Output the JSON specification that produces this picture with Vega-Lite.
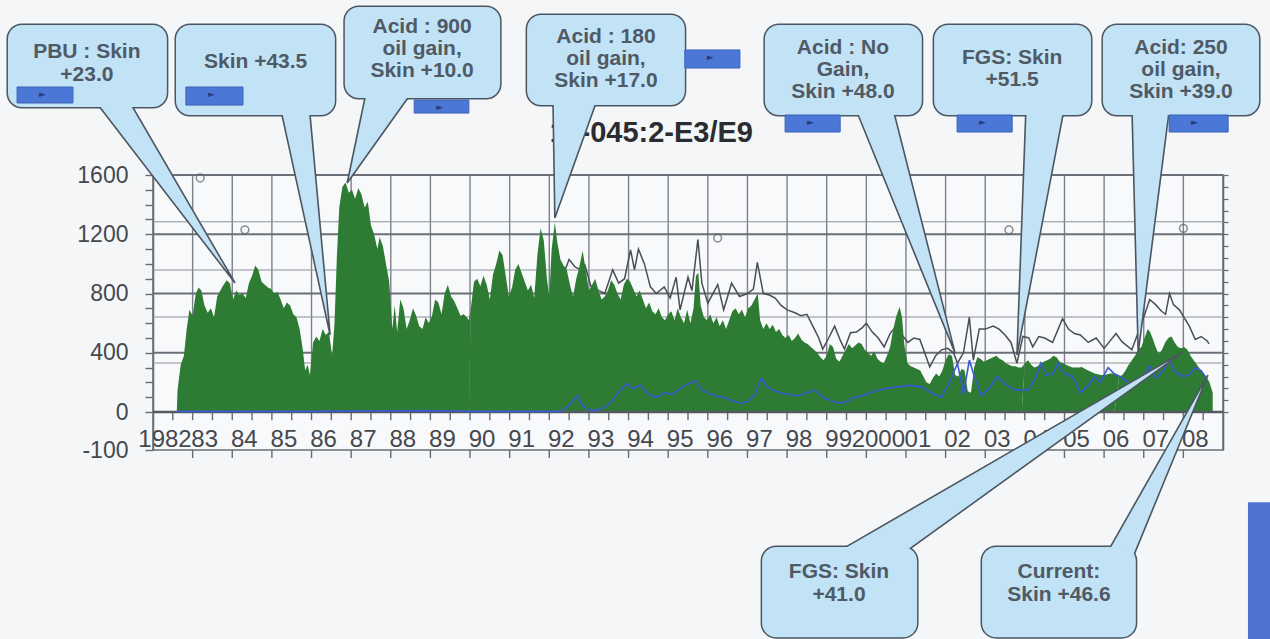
{
  "$schema": "https://vega.github.io/schema/vega-lite/v6.json",
  "width": 1070,
  "height": 275,
  "autosize": {"type": "none"},
  "padding": {"left": 153, "top": 175, "right": 47, "bottom": 189},
  "background": "#f4f6f8",
  "config": {"view": {"stroke": "#6a6e76", "strokeWidth": 1.5, "fill": "#f8f9fb"}},
  "datasets": {
    "oil": [
      {"t":1982.60,"v":0,"s":1},{"t":1982.62,"v":150,"s":1},{"t":1982.70,"v":320,"s":1},{"t":1982.78,"v":380,"s":1},{"t":1982.85,"v":560,"s":1},{"t":1982.92,"v":690,"s":1},{"t":1983.00,"v":650,"s":1},{"t":1983.08,"v":800,"s":1},{"t":1983.15,"v":840,"s":1},{"t":1983.22,"v":820,"s":1},{"t":1983.30,"v":720,"s":1},{"t":1983.38,"v":670,"s":1},{"t":1983.46,"v":700,"s":1},{"t":1983.54,"v":640,"s":1},{"t":1983.62,"v":780,"s":1},{"t":1983.70,"v":820,"s":1},{"t":1983.78,"v":860,"s":1},{"t":1983.86,"v":890,"s":1},{"t":1983.94,"v":870,"s":1},{"t":1984.02,"v":760,"s":1},{"t":1984.10,"v":820,"s":1},{"t":1984.18,"v":790,"s":1},{"t":1984.26,"v":800,"s":1},{"t":1984.34,"v":770,"s":1},{"t":1984.42,"v":870,"s":1},{"t":1984.50,"v":920,"s":1},{"t":1984.58,"v":990,"s":1},{"t":1984.66,"v":960,"s":1},{"t":1984.74,"v":880,"s":1},{"t":1984.82,"v":860,"s":1},{"t":1984.90,"v":840,"s":1},{"t":1984.98,"v":830,"s":1},{"t":1985.06,"v":800,"s":1},{"t":1985.14,"v":810,"s":1},{"t":1985.22,"v":760,"s":1},{"t":1985.30,"v":700,"s":1},{"t":1985.38,"v":740,"s":1},{"t":1985.46,"v":720,"s":1},{"t":1985.54,"v":660,"s":1},{"t":1985.62,"v":640,"s":1},{"t":1985.70,"v":560,"s":1},{"t":1985.78,"v":420,"s":1},{"t":1985.84,"v":280,"s":1},{"t":1985.90,"v":320,"s":1},{"t":1985.96,"v":250,"s":1},{"t":1986.04,"v":470,"s":1},{"t":1986.12,"v":510,"s":1},{"t":1986.20,"v":480,"s":1},{"t":1986.28,"v":560,"s":1},{"t":1986.36,"v":520,"s":1},{"t":1986.44,"v":540,"s":1},{"t":1986.52,"v":380,"s":1},{"t":1986.58,"v":600,"s":1},{"t":1986.64,"v":1050,"s":1},{"t":1986.70,"v":1380,"s":1},{"t":1986.78,"v":1520,"s":1},{"t":1986.86,"v":1550,"s":1},{"t":1986.94,"v":1480,"s":1},{"t":1987.02,"v":1500,"s":1},{"t":1987.10,"v":1440,"s":1},{"t":1987.18,"v":1510,"s":1},{"t":1987.26,"v":1470,"s":1},{"t":1987.34,"v":1380,"s":1},{"t":1987.42,"v":1420,"s":1},{"t":1987.50,"v":1260,"s":1},{"t":1987.58,"v":1200,"s":1},{"t":1987.66,"v":1100,"s":1},{"t":1987.72,"v":1180,"s":1},{"t":1987.80,"v":1120,"s":1},{"t":1987.88,"v":1000,"s":1},{"t":1987.96,"v":880,"s":1},{"t":1988.04,"v":560,"s":1},{"t":1988.10,"v":720,"s":1},{"t":1988.16,"v":540,"s":1},{"t":1988.24,"v":760,"s":1},{"t":1988.32,"v":700,"s":1},{"t":1988.40,"v":560,"s":1},{"t":1988.48,"v":620,"s":1},{"t":1988.56,"v":700,"s":1},{"t":1988.64,"v":650,"s":1},{"t":1988.72,"v":580,"s":1},{"t":1988.80,"v":560,"s":1},{"t":1988.88,"v":640,"s":1},{"t":1988.96,"v":600,"s":1},{"t":1989.04,"v":650,"s":1},{"t":1989.12,"v":760,"s":1},{"t":1989.20,"v":740,"s":1},{"t":1989.28,"v":660,"s":1},{"t":1989.36,"v":800,"s":1},{"t":1989.44,"v":860,"s":1},{"t":1989.52,"v":780,"s":1},{"t":1989.60,"v":750,"s":1},{"t":1989.68,"v":700,"s":1},{"t":1989.76,"v":650,"s":1},{"t":1989.84,"v":660,"s":1},{"t":1989.92,"v":640,"s":1},{"t":1989.97,"v":620,"s":1},
      {"t":1990.02,"v":700,"s":2},{"t":1990.10,"v":880,"s":2},{"t":1990.18,"v":900,"s":2},{"t":1990.26,"v":850,"s":2},{"t":1990.34,"v":920,"s":2},{"t":1990.42,"v":860,"s":2},{"t":1990.50,"v":760,"s":2},{"t":1990.58,"v":930,"s":2},{"t":1990.66,"v":1000,"s":2},{"t":1990.74,"v":1090,"s":2},{"t":1990.82,"v":1060,"s":2},{"t":1990.90,"v":920,"s":2},{"t":1990.98,"v":780,"s":2},{"t":1991.06,"v":840,"s":2},{"t":1991.14,"v":960,"s":2},{"t":1991.22,"v":1000,"s":2},{"t":1991.30,"v":940,"s":2},{"t":1991.38,"v":880,"s":2},{"t":1991.46,"v":820,"s":2},{"t":1991.54,"v":860,"s":2},{"t":1991.62,"v":770,"s":2},{"t":1991.70,"v":1060,"s":2},{"t":1991.78,"v":1240,"s":2},{"t":1991.86,"v":1160,"s":2},{"t":1991.94,"v":900,"s":2},{"t":1992.00,"v":780,"s":2},{"t":1992.06,"v":1100,"s":2},{"t":1992.14,"v":1280,"s":2},{"t":1992.20,"v":1150,"s":2},{"t":1992.28,"v":1030,"s":2},{"t":1992.36,"v":990,"s":2},{"t":1992.44,"v":960,"s":2},{"t":1992.52,"v":860,"s":2},{"t":1992.60,"v":780,"s":2},{"t":1992.68,"v":900,"s":2},{"t":1992.76,"v":980,"s":2},{"t":1992.84,"v":1090,"s":2},{"t":1992.92,"v":960,"s":2},{"t":1993.00,"v":820,"s":2},{"t":1993.08,"v":860,"s":2},{"t":1993.16,"v":900,"s":2},{"t":1993.24,"v":820,"s":2},{"t":1993.32,"v":760,"s":2},{"t":1993.40,"v":780,"s":2},{"t":1993.48,"v":820,"s":2},{"t":1993.56,"v":890,"s":2},{"t":1993.64,"v":860,"s":2},{"t":1993.72,"v":800,"s":2},{"t":1993.80,"v":760,"s":2},{"t":1993.88,"v":860,"s":2},{"t":1993.96,"v":900,"s":2},{"t":1994.04,"v":880,"s":2},{"t":1994.12,"v":830,"s":2},{"t":1994.20,"v":780,"s":2},{"t":1994.28,"v":820,"s":2},{"t":1994.36,"v":760,"s":2},{"t":1994.44,"v":700,"s":2},{"t":1994.52,"v":740,"s":2},{"t":1994.60,"v":680,"s":2},{"t":1994.68,"v":660,"s":2},{"t":1994.76,"v":700,"s":2},{"t":1994.84,"v":640,"s":2},{"t":1994.92,"v":620,"s":2},{"t":1995.00,"v":660,"s":2},{"t":1995.08,"v":680,"s":2},{"t":1995.16,"v":620,"s":2},{"t":1995.24,"v":700,"s":2},{"t":1995.32,"v":640,"s":2},{"t":1995.40,"v":600,"s":2},{"t":1995.48,"v":690,"s":2},{"t":1995.56,"v":600,"s":2},{"t":1995.64,"v":700,"s":2},{"t":1995.70,"v":920,"s":2},{"t":1995.76,"v":940,"s":2},{"t":1995.82,"v":720,"s":2},{"t":1995.90,"v":640,"s":2},{"t":1995.98,"v":620,"s":2},{"t":1996.06,"v":660,"s":2},{"t":1996.14,"v":600,"s":2},{"t":1996.22,"v":640,"s":2},{"t":1996.30,"v":580,"s":2},{"t":1996.38,"v":620,"s":2},{"t":1996.46,"v":560,"s":2},{"t":1996.54,"v":620,"s":2},{"t":1996.62,"v":680,"s":2},{"t":1996.70,"v":700,"s":2},{"t":1996.78,"v":660,"s":2},{"t":1996.86,"v":690,"s":2},{"t":1996.94,"v":640,"s":2},{"t":1997.02,"v":700,"s":2},{"t":1997.10,"v":720,"s":2},{"t":1997.18,"v":760,"s":2},{"t":1997.26,"v":800,"s":2},{"t":1997.32,"v":620,"s":2},{"t":1997.40,"v":560,"s":2},{"t":1997.48,"v":600,"s":2},{"t":1997.56,"v":560,"s":2},{"t":1997.64,"v":590,"s":2},{"t":1997.72,"v":540,"s":2},{"t":1997.80,"v":560,"s":2},{"t":1997.88,"v":520,"s":2},{"t":1997.96,"v":500,"s":2},{"t":1998.04,"v":520,"s":2},{"t":1998.12,"v":480,"s":2},{"t":1998.20,"v":500,"s":2},{"t":1998.28,"v":530,"s":2},{"t":1998.36,"v":490,"s":2},{"t":1998.44,"v":470,"s":2},{"t":1998.52,"v":460,"s":2},{"t":1998.60,"v":440,"s":2},{"t":1998.68,"v":420,"s":2},{"t":1998.76,"v":400,"s":2},{"t":1998.84,"v":370,"s":2},{"t":1998.92,"v":350,"s":2},{"t":1999.00,"v":380,"s":2},{"t":1999.08,"v":460,"s":2},{"t":1999.16,"v":440,"s":2},{"t":1999.24,"v":360,"s":2},{"t":1999.32,"v":340,"s":2},{"t":1999.40,"v":380,"s":2},{"t":1999.48,"v":420,"s":2},{"t":1999.56,"v":460,"s":2},{"t":1999.64,"v":430,"s":2},{"t":1999.72,"v":450,"s":2},{"t":1999.80,"v":470,"s":2},{"t":1999.88,"v":460,"s":2},{"t":1999.96,"v":420,"s":2},{"t":2000.04,"v":400,"s":2},{"t":2000.12,"v":380,"s":2},{"t":2000.20,"v":410,"s":2},{"t":2000.28,"v":360,"s":2},{"t":2000.36,"v":340,"s":2},{"t":2000.44,"v":330,"s":2},{"t":2000.52,"v":380,"s":2},{"t":2000.60,"v":440,"s":2},{"t":2000.68,"v":560,"s":2},{"t":2000.76,"v":650,"s":2},{"t":2000.84,"v":710,"s":2},{"t":2000.90,"v":640,"s":2},{"t":2000.96,"v":450,"s":2},{"t":2001.04,"v":330,"s":2},{"t":2001.12,"v":310,"s":2},{"t":2001.20,"v":300,"s":2},{"t":2001.28,"v":290,"s":2},{"t":2001.36,"v":280,"s":2},{"t":2001.44,"v":240,"s":2},{"t":2001.52,"v":200,"s":2},{"t":2001.60,"v":190,"s":2},{"t":2001.68,"v":230,"s":2},{"t":2001.76,"v":260,"s":2},{"t":2001.84,"v":240,"s":2},{"t":2001.92,"v":280,"s":2},{"t":2002.00,"v":350,"s":2},{"t":2002.08,"v":390,"s":2},{"t":2002.16,"v":380,"s":2},{"t":2002.24,"v":250,"s":2},{"t":2002.32,"v":240,"s":2},{"t":2002.40,"v":290,"s":2},{"t":2002.48,"v":280,"s":2},{"t":2002.56,"v":140,"s":2},{"t":2002.64,"v":130,"s":2},{"t":2002.72,"v":300,"s":2},{"t":2002.80,"v":370,"s":2},{"t":2002.88,"v":360,"s":2},{"t":2002.96,"v":340,"s":2},{"t":2003.04,"v":350,"s":2},{"t":2003.12,"v":360,"s":2},{"t":2003.20,"v":370,"s":2},{"t":2003.28,"v":380,"s":2},{"t":2003.36,"v":360,"s":2},{"t":2003.44,"v":350,"s":2},{"t":2003.52,"v":330,"s":2},{"t":2003.60,"v":320,"s":2},{"t":2003.68,"v":310,"s":2},{"t":2003.76,"v":310,"s":2},{"t":2003.84,"v":300,"s":2},{"t":2003.92,"v":300,"s":2},
      {"t":2004.00,"v":330,"s":3},{"t":2004.08,"v":350,"s":3},{"t":2004.16,"v":320,"s":3},{"t":2004.24,"v":300,"s":3},{"t":2004.32,"v":310,"s":3},{"t":2004.40,"v":330,"s":3},{"t":2004.48,"v":340,"s":3},{"t":2004.56,"v":350,"s":3},{"t":2004.64,"v":360,"s":3},{"t":2004.72,"v":380,"s":3},{"t":2004.80,"v":370,"s":3},{"t":2004.88,"v":340,"s":3},{"t":2004.96,"v":330,"s":3},{"t":2005.04,"v":320,"s":3},{"t":2005.12,"v":310,"s":3},{"t":2005.20,"v":300,"s":3},{"t":2005.28,"v":300,"s":3},{"t":2005.36,"v":300,"s":3},{"t":2005.44,"v":305,"s":3},{"t":2005.52,"v":290,"s":3},{"t":2005.60,"v":280,"s":3},{"t":2005.68,"v":270,"s":3},{"t":2005.76,"v":260,"s":3},{"t":2005.84,"v":255,"s":3},{"t":2005.92,"v":250,"s":3},{"t":2006.00,"v":250,"s":3},{"t":2006.08,"v":255,"s":3},{"t":2006.16,"v":260,"s":3},{"t":2006.26,"v":260,"s":3},
      {"t":2006.38,"v":240,"s":4},{"t":2006.46,"v":250,"s":4},{"t":2006.54,"v":280,"s":4},{"t":2006.62,"v":320,"s":4},{"t":2006.70,"v":350,"s":4},{"t":2006.78,"v":380,"s":4},{"t":2006.86,"v":420,"s":4},{"t":2006.94,"v":440,"s":4},{"t":2007.02,"v":500,"s":4},{"t":2007.10,"v":560,"s":4},{"t":2007.16,"v":540,"s":4},{"t":2007.22,"v":500,"s":4},{"t":2007.30,"v":440,"s":4},{"t":2007.38,"v":390,"s":4},{"t":2007.46,"v":420,"s":4},{"t":2007.54,"v":470,"s":4},{"t":2007.62,"v":500,"s":4},{"t":2007.70,"v":510,"s":4},{"t":2007.78,"v":470,"s":4},{"t":2007.86,"v":440,"s":4},{"t":2007.94,"v":430,"s":4},{"t":2008.02,"v":440,"s":4},{"t":2008.10,"v":420,"s":4},{"t":2008.18,"v":380,"s":4},{"t":2008.26,"v":350,"s":4},{"t":2008.34,"v":320,"s":4},{"t":2008.42,"v":290,"s":4},{"t":2008.50,"v":260,"s":4},{"t":2008.58,"v":240,"s":4},{"t":2008.66,"v":200,"s":4},{"t":2008.74,"v":130,"s":4}
    ],
    "gross": [
      {"t":1992.4,"v":960},{"t":1992.5,"v":1030},{"t":1992.65,"v":980},{"t":1992.8,"v":960},{"t":1992.9,"v":990},{"t":1993.05,"v":850},{"t":1993.25,"v":820},{"t":1993.4,"v":800},{"t":1993.6,"v":960},{"t":1993.75,"v":870},{"t":1993.9,"v":900},{"t":1994.05,"v":1095},{"t":1994.15,"v":960},{"t":1994.25,"v":1100},{"t":1994.4,"v":1000},{"t":1994.55,"v":845},{"t":1994.7,"v":800},{"t":1994.9,"v":845},{"t":1995.05,"v":770},{"t":1995.2,"v":910},{"t":1995.3,"v":690},{"t":1995.5,"v":910},{"t":1995.6,"v":820},{"t":1995.75,"v":1165},{"t":1995.85,"v":870},{"t":1996.0,"v":735},{"t":1996.25,"v":860},{"t":1996.4,"v":690},{"t":1996.6,"v":870},{"t":1996.8,"v":780},{"t":1997.0,"v":800},{"t":1997.15,"v":830},{"t":1997.25,"v":1010},{"t":1997.4,"v":800},{"t":1997.55,"v":790},{"t":1997.7,"v":770},{"t":1997.85,"v":720},{"t":1998.0,"v":690},{"t":1998.2,"v":670},{"t":1998.35,"v":650},{"t":1998.5,"v":660},{"t":1998.65,"v":580},{"t":1998.8,"v":500},{"t":1998.9,"v":425},{"t":1999.05,"v":500},{"t":1999.2,"v":580},{"t":1999.35,"v":480},{"t":1999.45,"v":425},{"t":1999.6,"v":535},{"t":1999.75,"v":540},{"t":1999.9,"v":570},{"t":2000.0,"v":600},{"t":2000.15,"v":540},{"t":2000.3,"v":500},{"t":2000.45,"v":440},{"t":2000.6,"v":530},{"t":2000.75,"v":580},{"t":2000.9,"v":520},{"t":2001.05,"v":470},{"t":2001.2,"v":500},{"t":2001.35,"v":490},{"t":2001.5,"v":380},{"t":2001.6,"v":305},{"t":2001.75,"v":380},{"t":2001.9,"v":420},{"t":2002.05,"v":430},{"t":2002.2,"v":400},{"t":2002.3,"v":330},{"t":2002.45,"v":400},{"t":2002.6,"v":640},{"t":2002.7,"v":350},{"t":2002.85,"v":560},{"t":2003.0,"v":560},{"t":2003.2,"v":580},{"t":2003.35,"v":560},{"t":2003.5,"v":520},{"t":2003.65,"v":470},{"t":2003.8,"v":330},{"t":2003.95,"v":510},{"t":2004.1,"v":500},{"t":2004.2,"v":440},{"t":2004.35,"v":510},{"t":2004.5,"v":500},{"t":2004.7,"v":470},{"t":2004.95,"v":630},{"t":2005.1,"v":560},{"t":2005.25,"v":530},{"t":2005.4,"v":520},{"t":2005.6,"v":470},{"t":2005.8,"v":500},{"t":2006.0,"v":430},{"t":2006.3,"v":530},{"t":2006.45,"v":475},{"t":2006.7,"v":420},{"t":2006.85,"v":530},{"t":2007.0,"v":640},{"t":2007.15,"v":760},{"t":2007.3,"v":725},{"t":2007.45,"v":680},{"t":2007.55,"v":660},{"t":2007.65,"v":800},{"t":2007.75,"v":725},{"t":2007.9,"v":690},{"t":2008.15,"v":580},{"t":2008.3,"v":490},{"t":2008.45,"v":510},{"t":2008.6,"v":480},{"t":2008.65,"v":460}
    ],
    "water": [
      {"t":1982.6,"v":5},{"t":1986.0,"v":5},{"t":1989.0,"v":10},{"t":1990.0,"v":5},{"t":1992.3,"v":5},{"t":1992.55,"v":60},{"t":1992.7,"v":110},{"t":1992.85,"v":40},{"t":1993.0,"v":15},{"t":1993.2,"v":10},{"t":1993.45,"v":40},{"t":1993.6,"v":80},{"t":1993.8,"v":150},{"t":1993.95,"v":190},{"t":1994.1,"v":160},{"t":1994.3,"v":180},{"t":1994.5,"v":120},{"t":1994.7,"v":100},{"t":1994.9,"v":130},{"t":1995.1,"v":120},{"t":1995.3,"v":160},{"t":1995.5,"v":190},{"t":1995.7,"v":210},{"t":1995.85,"v":150},{"t":1996.0,"v":130},{"t":1996.2,"v":110},{"t":1996.4,"v":100},{"t":1996.6,"v":80},{"t":1996.8,"v":60},{"t":1997.0,"v":70},{"t":1997.2,"v":120},{"t":1997.35,"v":230},{"t":1997.5,"v":170},{"t":1997.7,"v":140},{"t":1998.0,"v":120},{"t":1998.3,"v":110},{"t":1998.5,"v":130},{"t":1998.7,"v":150},{"t":1998.9,"v":100},{"t":1999.1,"v":80},{"t":1999.3,"v":60},{"t":1999.5,"v":70},{"t":1999.7,"v":100},{"t":1999.9,"v":110},{"t":2000.2,"v":140},{"t":2000.5,"v":160},{"t":2000.8,"v":170},{"t":2001.1,"v":180},{"t":2001.4,"v":170},{"t":2001.7,"v":120},{"t":2001.9,"v":100},{"t":2002.1,"v":200},{"t":2002.3,"v":330},{"t":2002.45,"v":120},{"t":2002.6,"v":350},{"t":2002.75,"v":220},{"t":2002.9,"v":110},{"t":2003.1,"v":160},{"t":2003.3,"v":240},{"t":2003.5,"v":190},{"t":2003.75,"v":150},{"t":2003.9,"v":150},{"t":2004.1,"v":150},{"t":2004.3,"v":250},{"t":2004.4,"v":330},{"t":2004.55,"v":250},{"t":2004.7,"v":260},{"t":2004.85,"v":330},{"t":2005.0,"v":260},{"t":2005.2,"v":240},{"t":2005.4,"v":130},{"t":2005.6,"v":180},{"t":2005.75,"v":240},{"t":2005.9,"v":200},{"t":2006.1,"v":300},{"t":2006.25,"v":260},{"t":2006.4,"v":240},{"t":2006.6,"v":200},{"t":2006.8,"v":180},{"t":2007.0,"v":250},{"t":2007.15,"v":310},{"t":2007.3,"v":230},{"t":2007.5,"v":280},{"t":2007.65,"v":350},{"t":2007.8,"v":270},{"t":2008.0,"v":240},{"t":2008.15,"v":250},{"t":2008.3,"v":300},{"t":2008.45,"v":280},{"t":2008.55,"v":240}
    ],
    "pts": [
      {"t":1983.19,"v":1580},{"t":1984.32,"v":1230},{"t":1996.25,"v":1175},{"t":2003.6,"v":1230},{"t":2008.0,"v":1240}
    ],
    "vgrid": [
      {"t":1983},{"t":1984},{"t":1985},{"t":1986},{"t":1987},{"t":1988},{"t":1989},{"t":1990},{"t":1991},{"t":1992},{"t":1993},{"t":1994},{"t":1995},{"t":1996},{"t":1997},{"t":1998},{"t":1999},{"t":2000},{"t":2001},{"t":2002},{"t":2003},{"t":2004},{"t":2005},{"t":2006},{"t":2007},{"t":2008}
    ],
    "halfticks": [
      {"t":1982.5},{"t":1983},{"t":1983.5},{"t":1984},{"t":1984.5},{"t":1985},{"t":1985.5},{"t":1986},{"t":1986.5},{"t":1987},{"t":1987.5},{"t":1988},{"t":1988.5},{"t":1989},{"t":1989.5},{"t":1990},{"t":1990.5},{"t":1991},{"t":1991.5},{"t":1992},{"t":1992.5},{"t":1993},{"t":1993.5},{"t":1994},{"t":1994.5},{"t":1995},{"t":1995.5},{"t":1996},{"t":1996.5},{"t":1997},{"t":1997.5},{"t":1998},{"t":1998.5},{"t":1999},{"t":1999.5},{"t":2000},{"t":2000.5},{"t":2001},{"t":2001.5},{"t":2002},{"t":2002.5},{"t":2003},{"t":2003.5},{"t":2004},{"t":2004.5},{"t":2005},{"t":2005.5},{"t":2006},{"t":2006.5},{"t":2007},{"t":2007.5},{"t":2008},{"t":2008.5}
    ],
    "xlab": [
      {"t":1982,"text":"1982"},{"t":1983,"text":"83"},{"t":1984,"text":"84"},{"t":1985,"text":"85"},{"t":1986,"text":"86"},{"t":1987,"text":"87"},{"t":1988,"text":"88"},{"t":1989,"text":"89"},{"t":1990,"text":"90"},{"t":1991,"text":"91"},{"t":1992,"text":"92"},{"t":1993,"text":"93"},{"t":1994,"text":"94"},{"t":1995,"text":"95"},{"t":1996,"text":"96"},{"t":1997,"text":"97"},{"t":1998,"text":"98"},{"t":1999,"text":"99"},{"t":2000,"text":"2000"},{"t":2001,"text":"01"},{"t":2002,"text":"02"},{"t":2003,"text":"03"},{"t":2004,"text":"04"},{"t":2005,"text":"05"},{"t":2006,"text":"06"},{"t":2007,"text":"07"},{"t":2008,"text":"08"}
    ],
    "hmajor": [{"v":400},{"v":800},{"v":1200},{"v":1600}],
    "hminor": [{"v":331},{"v":642},{"v":959},{"v":1284}],
    "zero": [{"v":0}],
    "title": [{"t":1997.14,"v":1822,"text":"11-045:2-E3/E9"}],
    "boxes": [
      {"id":"pbu","t0":1978.34,"t1":1982.35,"v0":2612,"v1":2059},
      {"id":"skin","t0":1982.58,"t1":1986.59,"v0":2612,"v1":2005},
      {"id":"a900","t0":1986.84,"t1":1990.76,"v0":2734,"v1":2120},
      {"id":"a180","t0":1991.44,"t1":1995.42,"v0":2680,"v1":2072},
      {"id":"ano","t0":1997.44,"t1":2001.40,"v0":2612,"v1":2005},
      {"id":"fgs1","t0":2001.71,"t1":2005.67,"v0":2612,"v1":2005},
      {"id":"a250","t0":2005.97,"t1":2009.91,"v0":2612,"v1":2005},
      {"id":"fgs2","t0":1997.37,"t1":2001.28,"v0":-911,"v1":-1519},
      {"id":"cur","t0":2002.92,"t1":2006.80,"v0":-911,"v1":-1519}
    ],
    "wedges": [
      {"id":"pbu","k":0,"t":1980.46,"v":2126},{"id":"pbu","k":1,"t":1984.07,"v":871},{"id":"pbu","k":2,"t":1981.34,"v":2126},
      {"id":"skin","k":0,"t":1985.20,"v":2072},{"id":"skin","k":1,"t":1986.47,"v":520},{"id":"skin","k":2,"t":1985.94,"v":2072},
      {"id":"a900","k":0,"t":1987.40,"v":2187},{"id":"a900","k":1,"t":1986.90,"v":1546},{"id":"a900","k":2,"t":1988.61,"v":2187},
      {"id":"a180","k":0,"t":1992.09,"v":2140},{"id":"a180","k":1,"t":1992.14,"v":1310},{"id":"a180","k":2,"t":1993.25,"v":2140},
      {"id":"ano","k":0,"t":1999.69,"v":2072},{"id":"ano","k":1,"t":2002.24,"v":398},{"id":"ano","k":2,"t":2000.65,"v":2072},
      {"id":"fgs1","k":0,"t":2004.03,"v":2072},{"id":"fgs1","k":1,"t":2003.80,"v":385},{"id":"fgs1","k":2,"t":2005.01,"v":2072},
      {"id":"a250","k":0,"t":2006.70,"v":2072},{"id":"a250","k":1,"t":2006.86,"v":398},{"id":"a250","k":2,"t":2007.66,"v":2072},
      {"id":"fgs2","k":0,"t":1998.91,"v":-999},{"id":"fgs2","k":1,"t":2007.99,"v":405},{"id":"fgs2","k":2,"t":2000.70,"v":-999},
      {"id":"cur","k":0,"t":2005.97,"v":-999},{"id":"cur","k":1,"t":2008.62,"v":250},{"id":"cur","k":2,"t":2006.70,"v":-999}
    ],
    "notes": [
      {"t":1980.33,"v":2430,"text":"PBU : Skin"},{"t":1980.33,"v":2275,"text":"+23.0"},
      {"t":1984.59,"v":2362,"text":"Skin +43.5"},
      {"t":1988.79,"v":2599,"text":"Acid : 900"},{"t":1988.79,"v":2450,"text":"oil gain,"},{"t":1988.79,"v":2302,"text":"Skin +10.0"},
      {"t":1993.43,"v":2531,"text":"Acid : 180"},{"t":1993.43,"v":2383,"text":"oil gain,"},{"t":1993.43,"v":2234,"text":"Skin +17.0"},
      {"t":1999.41,"v":2457,"text":"Acid : No"},{"t":1999.41,"v":2309,"text":"Gain,"},{"t":1999.41,"v":2160,"text":"Skin +48.0"},
      {"t":2003.68,"v":2390,"text":"FGS: Skin"},{"t":2003.68,"v":2241,"text":"+51.5"},
      {"t":2007.94,"v":2457,"text":"Acid: 250"},{"t":2007.94,"v":2309,"text":"oil gain,"},{"t":2007.94,"v":2160,"text":"Skin +39.0"},
      {"t":1999.31,"v":-1080,"text":"FGS: Skin"},{"t":1999.31,"v":-1235,"text":"+41.0"},
      {"t":2004.86,"v":-1080,"text":"Current:"},{"t":2004.86,"v":-1235,"text":"Skin +46.6"}
    ],
    "buttons": [
      {"t0":1978.57,"t1":1979.98,"v0":2194,"v1":2086},
      {"t0":1982.83,"t1":1984.27,"v0":2194,"v1":2072},
      {"t0":1988.59,"t1":1989.97,"v0":2106,"v1":2018},
      {"t0":1995.42,"t1":1996.81,"v0":2444,"v1":2322},
      {"t0":1997.95,"t1":1999.34,"v0":2005,"v1":1890},
      {"t0":2002.29,"t1":2003.68,"v0":2005,"v1":1890},
      {"t0":2007.64,"t1":2009.13,"v0":2005,"v1":1890}
    ],
    "strip": [{"t0":2009.63,"t1":2010.3,"v0":-608,"v1":-1560}]
  },
  "resolve": {"axis": {"y": "independent"}},
  "layer": [
    {
      "data": {"name": "vgrid"},
      "mark": {"type": "rule", "color": "#7c808a", "strokeWidth": 1.4},
      "encoding": {
        "x": {"field": "t", "type": "quantitative", "scale": {"domain": [1982, 2009], "nice": false, "zero": false}, "axis": null},
        "y": {"datum": 0, "type": "quantitative", "scale": {"domain": [-256, 1600], "nice": false, "zero": false}, "axis": null},
        "y2": {"datum": 1600}
      }
    },
    {
      "data": {"name": "halfticks"},
      "mark": {"type": "rule", "color": "#666a72", "strokeWidth": 1.4},
      "encoding": {
        "x": {"field": "t", "type": "quantitative", "scale": {"domain": [1982, 2009], "nice": false, "zero": false}, "axis": null},
        "y": {"datum": 0, "type": "quantitative", "scale": {"domain": [-256, 1600], "nice": false, "zero": false}, "axis": null},
        "y2": {"datum": -55}
      }
    },
    {
      "data": {"name": "vgrid"},
      "mark": {"type": "rule", "color": "#666a72", "strokeWidth": 1.4},
      "encoding": {
        "x": {"field": "t", "type": "quantitative", "scale": {"domain": [1982, 2009], "nice": false, "zero": false}, "axis": null},
        "y": {"datum": -256, "type": "quantitative", "scale": {"domain": [-256, 1600], "nice": false, "zero": false}, "axis": null},
        "y2": {"datum": -310}
      }
    },
    {
      "data": {"name": "hminor"},
      "mark": {"type": "rule", "color": "#8c9099", "strokeWidth": 1.1},
      "encoding": {
        "y": {"field": "v", "type": "quantitative", "scale": {"domain": [-256, 1600], "nice": false, "zero": false}, "axis": null}
      }
    },
    {
      "data": {"name": "hmajor"},
      "mark": {"type": "rule", "color": "#6b6f78", "strokeWidth": 2},
      "encoding": {
        "y": {"field": "v", "type": "quantitative", "scale": {"domain": [-256, 1600], "nice": false, "zero": false},
          "axis": {"orient": "right", "title": null, "values": [0,80,160,240,320,400,480,560,640,720,800,880,960,1040,1120,1200,1280,1360,1440,1520,1600], "labels": false, "ticks": true, "tickSize": 5, "tickColor": "#666a72", "tickWidth": 1.2, "domain": true, "domainColor": "#666a72", "domainWidth": 1.5, "grid": false}}
      }
    },
    {
      "data": {"name": "gross"},
      "mark": {"type": "line", "color": "#4a4d55", "strokeWidth": 1.5},
      "encoding": {
        "x": {"field": "t", "type": "quantitative", "scale": {"domain": [1982, 2009], "nice": false, "zero": false}, "axis": null},
        "y": {"field": "v", "type": "quantitative", "scale": {"domain": [-256, 1600], "nice": false, "zero": false}, "axis": null}
      }
    },
    {
      "data": {"name": "oil"},
      "mark": {"type": "area", "color": "#2e7b34", "opacity": 1},
      "encoding": {
        "x": {"field": "t", "type": "quantitative", "scale": {"domain": [1982, 2009], "nice": false, "zero": false}, "axis": null},
        "y": {"field": "v", "type": "quantitative", "scale": {"domain": [-256, 1600], "nice": false, "zero": false},
          "axis": {"title": null, "orient": "left", "values": [-256,0,100,200,300,400,500,600,700,800,900,1000,1100,1200,1300,1400,1500,1600],
            "labelExpr": "datum.value < -200 ? '-100' : (datum.value % 400 == 0 ? toString(datum.value) : '')",
            "grid": false, "domain": true, "domainColor": "#666a72", "domainWidth": 1.5, "ticks": true, "tickSize": 8, "tickColor": "#666a72", "tickWidth": 1.4,
            "labelFont": "Liberation Sans, Arial, sans-serif", "labelFontSize": 23, "labelColor": "#45484e", "labelPadding": 17, "labelOverlap": false, "labelFlush": false}},
        "detail": {"field": "s", "type": "nominal"}
      }
    },
    {
      "data": {"name": "zero"},
      "mark": {"type": "rule", "color": "#55585f", "strokeWidth": 2.5},
      "encoding": {
        "y": {"field": "v", "type": "quantitative", "scale": {"domain": [-256, 1600], "nice": false, "zero": false}, "axis": null}
      }
    },
    {
      "data": {"name": "water"},
      "mark": {"type": "line", "color": "#3a5bd0", "strokeWidth": 1.6},
      "encoding": {
        "x": {"field": "t", "type": "quantitative", "scale": {"domain": [1982, 2009], "nice": false, "zero": false}, "axis": null},
        "y": {"field": "v", "type": "quantitative", "scale": {"domain": [-256, 1600], "nice": false, "zero": false}, "axis": null}
      }
    },
    {
      "data": {"name": "pts"},
      "mark": {"type": "point", "filled": false, "color": "#62666e", "size": 60, "strokeWidth": 1.6},
      "encoding": {
        "x": {"field": "t", "type": "quantitative", "scale": {"domain": [1982, 2009], "nice": false, "zero": false}, "axis": null},
        "y": {"field": "v", "type": "quantitative", "scale": {"domain": [-256, 1600], "nice": false, "zero": false}, "axis": null}
      }
    },
    {
      "data": {"name": "xlab"},
      "mark": {"type": "text", "align": "center", "baseline": "middle", "dx": 12, "font": "Liberation Sans, Arial, sans-serif", "fontSize": 24, "color": "#45484e"},
      "encoding": {
        "x": {"field": "t", "type": "quantitative", "scale": {"domain": [1982, 2009], "nice": false, "zero": false}, "axis": null},
        "y": {"datum": -189, "type": "quantitative", "scale": {"domain": [-256, 1600], "nice": false, "zero": false}, "axis": null},
        "text": {"field": "text", "type": "nominal"}
      }
    },
    {
      "data": {"name": "title"},
      "mark": {"type": "text", "align": "right", "baseline": "alphabetic", "font": "Liberation Sans, Arial, sans-serif", "fontWeight": "bold", "fontSize": 29, "color": "#2b2c30"},
      "encoding": {
        "x": {"field": "t", "type": "quantitative", "scale": {"domain": [1982, 2009], "nice": false, "zero": false}, "axis": null},
        "y": {"field": "v", "type": "quantitative", "scale": {"domain": [-256, 1600], "nice": false, "zero": false}, "axis": null},
        "text": {"field": "text", "type": "nominal"}
      }
    },
    {
      "data": {"name": "boxes"},
      "mark": {"type": "rect", "fill": "#c2e2f6", "stroke": "#4c5660", "strokeWidth": 3, "cornerRadius": 14},
      "encoding": {
        "x": {"field": "t0", "type": "quantitative", "scale": {"domain": [1982, 2009], "nice": false, "zero": false}, "axis": null},
        "x2": {"field": "t1"},
        "y": {"field": "v0", "type": "quantitative", "scale": {"domain": [-256, 1600], "nice": false, "zero": false}, "axis": null},
        "y2": {"field": "v1"}
      }
    },
    {
      "data": {"name": "wedges"},
      "mark": {"type": "line", "interpolate": "linear-closed", "fill": "#c2e2f6", "stroke": "#4c5660", "strokeWidth": 1.6},
      "encoding": {
        "x": {"field": "t", "type": "quantitative", "scale": {"domain": [1982, 2009], "nice": false, "zero": false}, "axis": null},
        "y": {"field": "v", "type": "quantitative", "scale": {"domain": [-256, 1600], "nice": false, "zero": false}, "axis": null},
        "detail": {"field": "id", "type": "nominal"},
        "order": {"field": "k", "type": "quantitative"}
      }
    },
    {
      "data": {"name": "boxes"},
      "mark": {"type": "rect", "fill": "#c2e2f6", "strokeWidth": 0, "cornerRadius": 14},
      "encoding": {
        "x": {"field": "t0", "type": "quantitative", "scale": {"domain": [1982, 2009], "nice": false, "zero": false}, "axis": null},
        "x2": {"field": "t1"},
        "y": {"field": "v0", "type": "quantitative", "scale": {"domain": [-256, 1600], "nice": false, "zero": false}, "axis": null},
        "y2": {"field": "v1"}
      }
    },
    {
      "data": {"name": "notes"},
      "mark": {"type": "text", "align": "center", "baseline": "middle", "font": "Liberation Sans, Arial, sans-serif", "fontWeight": "bold", "fontSize": 21, "color": "#4f5a65"},
      "encoding": {
        "x": {"field": "t", "type": "quantitative", "scale": {"domain": [1982, 2009], "nice": false, "zero": false}, "axis": null},
        "y": {"field": "v", "type": "quantitative", "scale": {"domain": [-256, 1600], "nice": false, "zero": false}, "axis": null},
        "text": {"field": "text", "type": "nominal"}
      }
    },
    {
      "data": {"name": "buttons"},
      "mark": {"type": "rect", "fill": "#4b78d6", "stroke": "#3d62b8", "strokeWidth": 1},
      "encoding": {
        "x": {"field": "t0", "type": "quantitative", "scale": {"domain": [1982, 2009], "nice": false, "zero": false}, "axis": null},
        "x2": {"field": "t1"},
        "y": {"field": "v0", "type": "quantitative", "scale": {"domain": [-256, 1600], "nice": false, "zero": false}, "axis": null},
        "y2": {"field": "v1"}
      }
    },
    {
      "data": {"name": "buttons"},
      "mark": {"type": "text", "text": "►", "align": "left", "baseline": "top", "dx": 22, "dy": 3, "fontSize": 9, "color": "#2b3f7a", "font": "DejaVu Sans, sans-serif"},
      "encoding": {
        "x": {"field": "t0", "type": "quantitative", "scale": {"domain": [1982, 2009], "nice": false, "zero": false}, "axis": null},
        "y": {"field": "v0", "type": "quantitative", "scale": {"domain": [-256, 1600], "nice": false, "zero": false}, "axis": null}
      }
    },
    {
      "data": {"name": "strip"},
      "mark": {"type": "rect", "fill": "#4f72d2"},
      "encoding": {
        "x": {"field": "t0", "type": "quantitative", "scale": {"domain": [1982, 2009], "nice": false, "zero": false}, "axis": null},
        "x2": {"field": "t1"},
        "y": {"field": "v0", "type": "quantitative", "scale": {"domain": [-256, 1600], "nice": false, "zero": false}, "axis": null},
        "y2": {"field": "v1"}
      }
    }
  ]
}
